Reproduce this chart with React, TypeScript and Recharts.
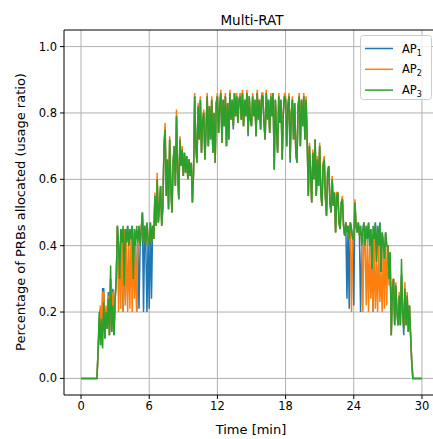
import React from 'react';
import { LineChart, Line, XAxis, YAxis, CartesianGrid, ReferenceLine } from 'recharts';

const TITLE = 'Multi-RAT';
const X_LABEL = 'Time [min]';
const Y_LABEL = 'Percentage of PRBs allocated (usage ratio)';
const X_TICKS = [0, 6, 12, 18, 24, 30];
const Y_TICKS = [0, 0.2, 0.4, 0.6, 0.8, 1.0];
const SERIES_NAMES = ['AP', 'AP', 'AP'];
const SERIES_SUBS = ['1', '2', '3'];
const COLORS = ['#1f77b4', '#ff7f0e', '#2ca02c'];
const STEP_MIN = 0.1; // sampling interval (minutes), one row per 10 samples = 1 minute

const ap1 = [
  0, 0, 0, 0, 0, 0, 0, 0, 0, 0,
  0, 0, 0, 0, 0, 0.08, 0.18, 0.21, 0.10, 0.27,
  0.27, 0.12, 0.21, 0.15, 0.26, 0.13, 0.30, 0.14, 0.27, 0.13,
  0.24, 0.30, 0.46, 0.40, 0.30, 0.45, 0.41, 0.20, 0.28, 0.45,
  0.41, 0.46, 0.40, 0.45, 0.42, 0.46, 0.30, 0.45, 0.40, 0.20,
  0.41, 0.21, 0.40, 0.45, 0.50, 0.20, 0.46, 0.40, 0.20, 0.42,
  0.21, 0.47, 0.24, 0.46, 0.42, 0.55, 0.46, 0.60, 0.47, 0.52,
  0.58, 0.46, 0.52, 0.70, 0.75, 0.55, 0.66, 0.51, 0.72, 0.58,
  0.50, 0.65, 0.70, 0.58, 0.79, 0.62, 0.54, 0.72, 0.64, 0.69,
  0.61, 0.68, 0.62, 0.67, 0.60, 0.66, 0.61, 0.65, 0.53, 0.62,
  0.85, 0.70, 0.65, 0.82, 0.72, 0.84, 0.68, 0.78, 0.80, 0.66,
  0.75, 0.85, 0.70, 0.82, 0.72, 0.84, 0.68, 0.80, 0.65, 0.83,
  0.85, 0.74, 0.82, 0.86, 0.71, 0.84, 0.76, 0.85, 0.70, 0.83,
  0.72, 0.86, 0.78, 0.84, 0.75, 0.86, 0.79, 0.85, 0.77, 0.84,
  0.85, 0.78, 0.86, 0.76, 0.84, 0.79, 0.86, 0.73, 0.85, 0.78,
  0.76, 0.85, 0.79, 0.84, 0.73, 0.86, 0.78, 0.84, 0.75, 0.85,
  0.85, 0.77, 0.72, 0.86, 0.78, 0.84, 0.74, 0.85, 0.79, 0.86,
  0.63, 0.84, 0.75, 0.68, 0.85, 0.77, 0.84, 0.66, 0.80, 0.85,
  0.84, 0.70, 0.82, 0.85, 0.65, 0.80, 0.84, 0.72, 0.83, 0.68,
  0.65, 0.82, 0.85, 0.70, 0.84, 0.76, 0.85, 0.72, 0.84, 0.72,
  0.55, 0.70, 0.62, 0.53, 0.68, 0.60, 0.72, 0.55, 0.66, 0.58,
  0.70, 0.56, 0.52, 0.64, 0.66, 0.55, 0.49, 0.62, 0.64, 0.53,
  0.50, 0.60, 0.52, 0.56, 0.44, 0.55, 0.56, 0.47, 0.45, 0.53,
  0.54, 0.46, 0.43, 0.47, 0.24, 0.46, 0.21, 0.47, 0.45, 0.42,
  0.22, 0.53, 0.46, 0.44, 0.47, 0.43, 0.20, 0.40, 0.45, 0.47,
  0.40, 0.46, 0.42, 0.47, 0.40, 0.45, 0.33, 0.20, 0.42, 0.47,
  0.35, 0.46, 0.40, 0.47, 0.32, 0.44, 0.41, 0.36, 0.44, 0.40,
  0.40, 0.30, 0.38, 0.13, 0.27, 0.30, 0.16, 0.28, 0.20, 0.16,
  0.25, 0.16, 0.31, 0.20, 0.13, 0.27, 0.16, 0.25, 0.14, 0.22,
  0.13, 0.05, 0, 0, 0, 0, 0, 0, 0, 0,
  0,
];

const ap2 = [
  0, 0, 0, 0, 0, 0, 0, 0, 0, 0,
  0, 0, 0, 0, 0, 0.09, 0.15, 0.22, 0.10, 0.26,
  0.26, 0.12, 0.22, 0.15, 0.25, 0.13, 0.30, 0.15, 0.26, 0.14,
  0.24, 0.30, 0.46, 0.20, 0.40, 0.21, 0.44, 0.20, 0.45, 0.22,
  0.41, 0.20, 0.40, 0.21, 0.45, 0.20, 0.42, 0.24, 0.40, 0.20,
  0.41, 0.46, 0.40, 0.45, 0.50, 0.41, 0.46, 0.40, 0.47, 0.42,
  0.40, 0.47, 0.41, 0.46, 0.42, 0.56, 0.46, 0.62, 0.47, 0.52,
  0.58, 0.46, 0.52, 0.70, 0.77, 0.55, 0.66, 0.51, 0.73, 0.58,
  0.50, 0.65, 0.70, 0.58, 0.81, 0.62, 0.54, 0.73, 0.64, 0.70,
  0.61, 0.68, 0.62, 0.67, 0.60, 0.66, 0.61, 0.65, 0.53, 0.62,
  0.86, 0.70, 0.65, 0.83, 0.72, 0.85, 0.68, 0.78, 0.81, 0.66,
  0.75, 0.86, 0.70, 0.82, 0.72, 0.85, 0.68, 0.80, 0.65, 0.83,
  0.86, 0.74, 0.82, 0.87, 0.71, 0.84, 0.76, 0.86, 0.70, 0.83,
  0.72, 0.87, 0.78, 0.84, 0.76, 0.86, 0.79, 0.86, 0.77, 0.84,
  0.86, 0.78, 0.87, 0.76, 0.84, 0.79, 0.87, 0.74, 0.85, 0.78,
  0.76, 0.86, 0.79, 0.84, 0.73, 0.87, 0.78, 0.84, 0.75, 0.86,
  0.86, 0.77, 0.72, 0.87, 0.78, 0.84, 0.74, 0.86, 0.79, 0.86,
  0.63, 0.84, 0.75, 0.68, 0.86, 0.77, 0.84, 0.66, 0.80, 0.86,
  0.85, 0.70, 0.82, 0.86, 0.66, 0.80, 0.85, 0.72, 0.83, 0.68,
  0.65, 0.82, 0.86, 0.70, 0.84, 0.76, 0.86, 0.72, 0.85, 0.72,
  0.55, 0.71, 0.60, 0.53, 0.69, 0.60, 0.72, 0.55, 0.67, 0.58,
  0.71, 0.56, 0.52, 0.65, 0.67, 0.55, 0.49, 0.63, 0.64, 0.53,
  0.50, 0.61, 0.52, 0.56, 0.44, 0.56, 0.56, 0.47, 0.45, 0.53,
  0.55, 0.46, 0.43, 0.47, 0.44, 0.46, 0.42, 0.47, 0.20, 0.42,
  0.42, 0.54, 0.46, 0.44, 0.47, 0.43, 0.46, 0.40, 0.20, 0.47,
  0.40, 0.22, 0.42, 0.20, 0.40, 0.24, 0.33, 0.20, 0.42, 0.21,
  0.35, 0.20, 0.40, 0.23, 0.32, 0.20, 0.41, 0.21, 0.44, 0.22,
  0.40, 0.28, 0.38, 0.13, 0.29, 0.30, 0.16, 0.29, 0.20, 0.16,
  0.26, 0.16, 0.31, 0.20, 0.15, 0.29, 0.16, 0.26, 0.14, 0.22,
  0.13, 0.05, 0, 0, 0, 0, 0, 0, 0, 0,
  0,
];

const ap3 = [
  0, 0, 0, 0, 0, 0, 0, 0, 0, 0,
  0, 0, 0, 0, 0, 0.08, 0.20, 0.10, 0.18, 0.09,
  0.23, 0.12, 0.20, 0.15, 0.24, 0.13, 0.34, 0.14, 0.22, 0.13,
  0.24, 0.30, 0.46, 0.40, 0.30, 0.45, 0.41, 0.46, 0.28, 0.45,
  0.41, 0.46, 0.40, 0.45, 0.42, 0.46, 0.30, 0.45, 0.40, 0.46,
  0.41, 0.46, 0.40, 0.45, 0.50, 0.41, 0.46, 0.40, 0.47, 0.42,
  0.40, 0.47, 0.41, 0.46, 0.42, 0.55, 0.46, 0.60, 0.47, 0.52,
  0.58, 0.46, 0.52, 0.70, 0.75, 0.55, 0.66, 0.51, 0.72, 0.58,
  0.50, 0.65, 0.70, 0.58, 0.79, 0.62, 0.54, 0.72, 0.64, 0.69,
  0.61, 0.68, 0.62, 0.67, 0.60, 0.66, 0.61, 0.65, 0.53, 0.62,
  0.85, 0.70, 0.65, 0.82, 0.72, 0.84, 0.68, 0.78, 0.80, 0.66,
  0.75, 0.85, 0.70, 0.82, 0.72, 0.84, 0.68, 0.80, 0.65, 0.83,
  0.85, 0.74, 0.82, 0.86, 0.71, 0.84, 0.76, 0.85, 0.70, 0.83,
  0.72, 0.86, 0.78, 0.84, 0.76, 0.86, 0.79, 0.85, 0.77, 0.84,
  0.85, 0.78, 0.86, 0.76, 0.84, 0.79, 0.86, 0.74, 0.85, 0.78,
  0.76, 0.85, 0.79, 0.84, 0.73, 0.86, 0.78, 0.84, 0.75, 0.85,
  0.85, 0.77, 0.72, 0.86, 0.78, 0.84, 0.74, 0.85, 0.79, 0.86,
  0.63, 0.84, 0.75, 0.68, 0.85, 0.77, 0.84, 0.66, 0.80, 0.85,
  0.84, 0.70, 0.82, 0.85, 0.66, 0.80, 0.84, 0.72, 0.83, 0.68,
  0.65, 0.82, 0.85, 0.70, 0.84, 0.76, 0.85, 0.72, 0.84, 0.72,
  0.55, 0.70, 0.62, 0.53, 0.68, 0.60, 0.72, 0.55, 0.66, 0.58,
  0.70, 0.56, 0.52, 0.64, 0.66, 0.55, 0.49, 0.62, 0.64, 0.53,
  0.50, 0.60, 0.52, 0.56, 0.44, 0.55, 0.56, 0.47, 0.45, 0.53,
  0.54, 0.46, 0.43, 0.47, 0.44, 0.46, 0.42, 0.47, 0.45, 0.42,
  0.42, 0.53, 0.46, 0.44, 0.47, 0.43, 0.46, 0.40, 0.45, 0.47,
  0.40, 0.46, 0.42, 0.47, 0.40, 0.45, 0.33, 0.46, 0.42, 0.47,
  0.35, 0.46, 0.40, 0.47, 0.32, 0.44, 0.41, 0.36, 0.44, 0.40,
  0.40, 0.30, 0.38, 0.13, 0.27, 0.30, 0.16, 0.28, 0.20, 0.16,
  0.25, 0.16, 0.36, 0.20, 0.15, 0.27, 0.16, 0.25, 0.14, 0.22,
  0.13, 0.05, 0, 0, 0, 0, 0, 0, 0, 0,
  0,
];

const data = ap3.map((_, i) => ({
  t: Math.round(i * STEP_MIN * 100) / 100,
  ap1: ap1[i],
  ap2: ap2[i],
  ap3: ap3[i],
}));

const FONT = '"DejaVu Sans", sans-serif';

export default function App() {
  const W = 439;
  const H = 439;
  return (
    <div style={{ position: 'absolute', left: 0, top: 0, width: 433, height: 439, overflow: 'hidden', background: '#fff' }}>
      <LineChart width={W} height={H} data={data} margin={{ top: 30, right: 0, bottom: 0, left: 0 }}>
        <CartesianGrid stroke="#b0b0b0" strokeWidth={1} horizontalValues={Y_TICKS} verticalValues={X_TICKS} />
        <XAxis
          dataKey="t"
          type="number"
          domain={[-1.5, 31.5]}
          ticks={X_TICKS}
          allowDataOverflow
          height={44}
          tickSize={4}
          tickMargin={3}
          stroke="#000"
          tick={{ fill: '#000', fontSize: 11.5, fontFamily: FONT }}
          tickLine={{ stroke: '#000' }}
          axisLine={{ stroke: '#000' }}
        />
        <YAxis
          type="number"
          domain={[-0.05, 1.05]}
          ticks={Y_TICKS}
          allowDataOverflow
          width={64}
          tickSize={4}
          tickMargin={3}
          tickFormatter={(v: number) => v.toFixed(1)}
          stroke="#000"
          tick={{ fill: '#000', fontSize: 11.5, fontFamily: FONT }}
          tickLine={{ stroke: '#000' }}
          axisLine={{ stroke: '#000' }}
        />
        <ReferenceLine y={1.05} stroke="#000" strokeWidth={1} ifOverflow="visible" />
        <Line type="linear" dataKey="ap1" stroke={COLORS[0]} strokeWidth={1.5} dot={false} isAnimationActive={false} />
        <Line type="linear" dataKey="ap2" stroke={COLORS[1]} strokeWidth={1.5} dot={false} isAnimationActive={false} />
        <Line type="linear" dataKey="ap3" stroke={COLORS[2]} strokeWidth={1.5} dot={false} isAnimationActive={false} />
      </LineChart>
      <svg width={433} height={439} style={{ position: 'absolute', left: 0, top: 0, pointerEvents: 'none' }}>
        <text x={252} y={25} textAnchor="middle" fontFamily={FONT} fontSize={13.5} fill="#000">{TITLE}</text>
        <text x={251} y={434} textAnchor="middle" fontFamily={FONT} fontSize={13} fill="#000">{X_LABEL}</text>
        <text x={0} y={0} transform="translate(25,212) rotate(-90)" textAnchor="middle" fontFamily={FONT} fontSize={13} fill="#000">{Y_LABEL}</text>
        <rect x={360.5} y={35.5} width={71} height={64} rx={3} fill="#fff" fillOpacity={0.8} stroke="#cccccc" />
        {SERIES_NAMES.map((name, i) => {
          const y = 48.5 + i * 20.8;
          return (
            <g key={i}>
              <line x1={365} x2={393} y1={y} y2={y} stroke={COLORS[i]} strokeWidth={1.5} />
              <text x={402} y={y + 4} fontFamily={FONT} fontSize={11.5} fill="#000">
                {name}
                <tspan dy={3} fontSize={8}>{SERIES_SUBS[i]}</tspan>
              </text>
            </g>
          );
        })}
      </svg>
    </div>
  );
}
